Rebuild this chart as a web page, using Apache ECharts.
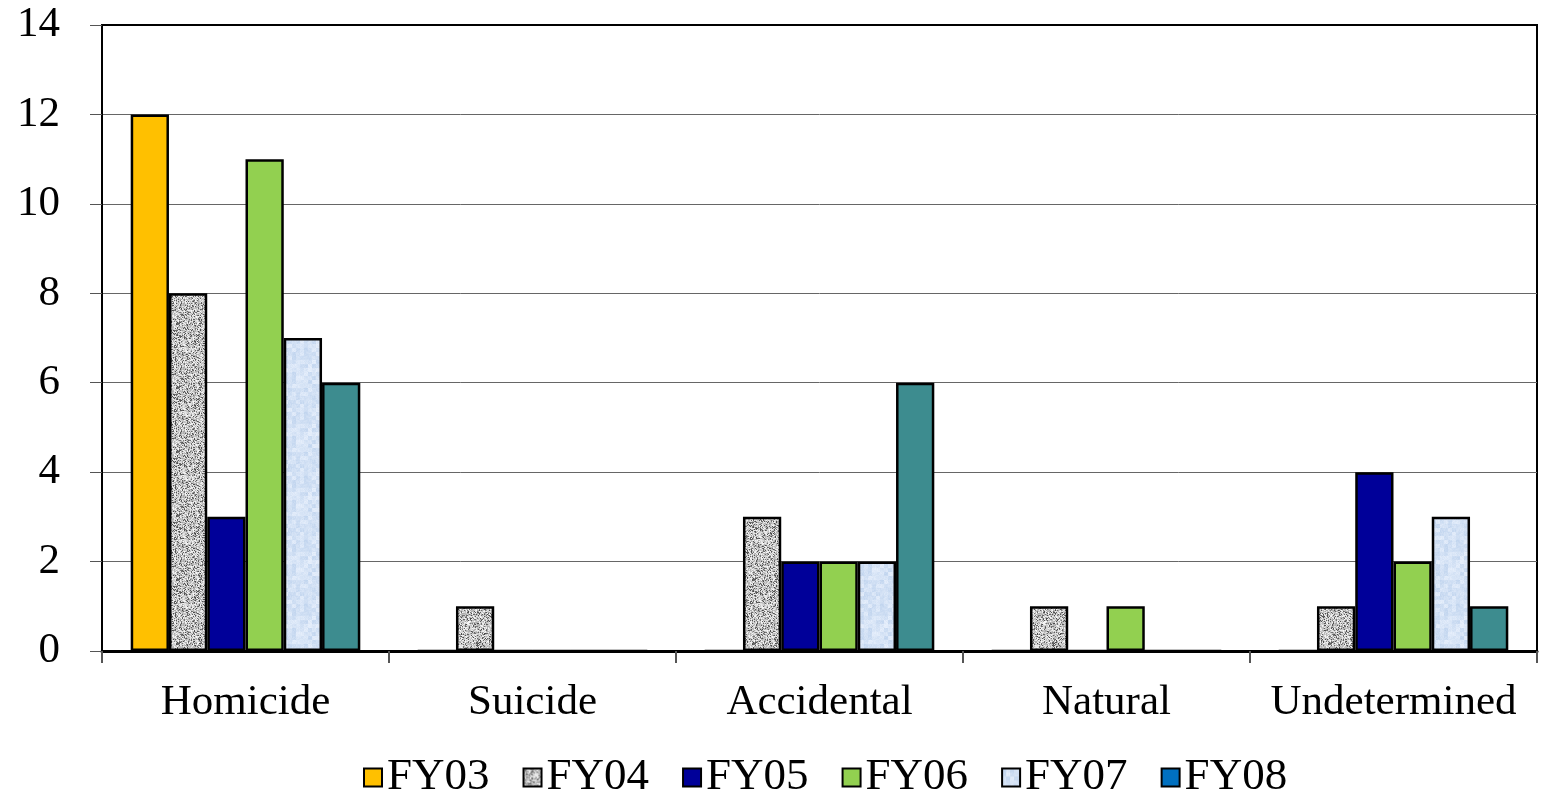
<!DOCTYPE html>
<html>
<head>
<meta charset="utf-8">
<script src="https://cdn.jsdelivr.net/npm/echarts@6/dist/echarts.min.js"></script>
<style>
  html, body { margin: 0; padding: 0; background: #fff; }
  #chart { width: 1543px; height: 792px; }
</style>
</head>
<body>
<div id="chart"></div>
<script>
// Manner of death, counts by fiscal year
const categories = ['Homicide', 'Suicide', 'Accidental', 'Natural', 'Undetermined'];
const years = ['FY03', 'FY04', 'FY05', 'FY06', 'FY07', 'FY08'];
const fy03 = [12, 0, 0, 0, 0];
const fy04 = [8, 1, 3, 1, 1];
const fy05 = [3, 0, 2, 0, 4];
const fy06 = [11, 0, 2, 1, 2];
const fy07 = [7, 0, 2, 0, 3];
const fy08 = [6, 0, 6, 0, 1];
const yTicks = { min: 0, max: 14, interval: 2 };

// Deterministic pixel hash used for the textured fills
function hash(x, y, s) {
  let h = (x * 374761393 + y * 668265263 + s * 982451653) | 0;
  h = Math.imul(h ^ (h >>> 13), 1274126177);
  h ^= h >>> 16;
  return (h >>> 0) / 4294967295;
}

// Grey granite-like speckle
function graniteTexture() {
  const c = document.createElement('canvas');
  c.width = c.height = 64;
  const ctx = c.getContext('2d');
  const img = ctx.createImageData(64, 64);
  for (let y = 0; y < 64; y++) {
    for (let x = 0; x < 64; x++) {
      const r = hash(x, y, 1);
      let v = 140 + Math.round(r * 110);
      if (r < 0.22) v = 70 + Math.round(r * 250);
      const i = (y * 64 + x) * 4;
      img.data[i] = v; img.data[i + 1] = v; img.data[i + 2] = v; img.data[i + 3] = 255;
    }
  }
  ctx.putImageData(img, 0, 0);
  return c;
}

// Pale blue mottled fill
function mottledTexture() {
  const c = document.createElement('canvas');
  c.width = c.height = 64;
  const ctx = c.getContext('2d');
  const img = ctx.createImageData(64, 64);
  for (let y = 0; y < 64; y++) {
    for (let x = 0; x < 64; x++) {
      const coarse = hash(x >> 2, y >> 2, 7);
      const fine = hash(x, y, 3);
      const t = coarse * 0.7 + fine * 0.3;
      const i = (y * 64 + x) * 4;
      img.data[i] = Math.round(192 + t * 40);
      img.data[i + 1] = Math.round(212 + t * 28);
      img.data[i + 2] = Math.round(238 + t * 14);
      img.data[i + 3] = 255;
    }
  }
  ctx.putImageData(img, 0, 0);
  return c;
}

const granite = graniteTexture();
const mottled = mottledTexture();
const fills = [
  '#FFC000',
  { image: granite, repeat: 'repeat' },
  '#000099',
  '#92D050',
  { image: mottled, repeat: 'repeat' },
  '#3D8C8F'
];
// FY08's legend key uses a brighter blue than its bars
const legendSwatch = [
  '#FFC000',
  { image: granite, repeat: 'repeat' },
  '#000099',
  '#92D050',
  { image: mottled, repeat: 'repeat' },
  '#0070C0'
];
const values = [fy03, fy04, fy05, fy06, fy07, fy08];

const font = '"Liberation Serif", "Times New Roman", serif';

const chart = echarts.init(document.getElementById('chart'), null, { renderer: 'canvas' });
chart.setOption({
  animation: false,
  backgroundColor: '#fff',
  grid: {
    left: 102, right: 6, top: 25, bottom: 141, containLabel: false,
    show: true, borderColor: '#000', borderWidth: 2, backgroundColor: 'transparent'
  },
  legend: {
    bottom: -13,
    left: 358,
    icon: 'rect',
    itemWidth: 18,
    itemHeight: 18,
    itemGap: 33,
    textStyle: { fontFamily: font, fontSize: 45, color: '#000' },
    data: years.map((y, i) => ({
      name: y,
      itemStyle: { color: legendSwatch[i], borderColor: '#000', borderWidth: 2 }
    }))
  },
  xAxis: {
    type: 'category',
    data: categories,
    boundaryGap: true,
    axisLine: { lineStyle: { color: '#000', width: 3 } },
    axisTick: { show: true, interval: 0, length: 12, lineStyle: { color: '#555', width: 2 } },
    axisLabel: { interval: 0, fontFamily: font, fontSize: 43, color: '#000', margin: 30 }
  },
  yAxis: {
    type: 'value',
    min: yTicks.min,
    max: yTicks.max,
    interval: yTicks.interval,
    axisLine: { show: true, lineStyle: { color: '#000', width: 2 } },
    axisTick: { show: true, length: 12, lineStyle: { color: '#555', width: 1 } },
    axisLabel: { fontFamily: font, fontSize: 43, color: '#000', margin: 42 },
    splitLine: { show: true, showMaxLine: false, lineStyle: { color: '#666', width: 1 } }
  },
  series: years.map((y, i) => ({
    name: y,
    type: 'bar',
    data: values[i],
    barGap: '0%',
    barCategoryGap: '20%',
    itemStyle: { color: fills[i], borderColor: '#000', borderWidth: 2.5 }
  }))
});
</script>
</body>
</html>
